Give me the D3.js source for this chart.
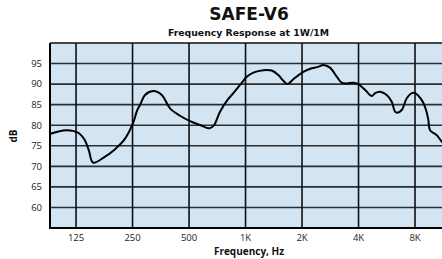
<!DOCTYPE html>
<html><head><meta charset="utf-8">
<script src="https://cdn.jsdelivr.net/npm/d3@7"></script>
<style>html,body{margin:0;padding:0;background:#fff;}svg{display:block;}</style>
</head><body>
<svg id="c" width="442" height="259"></svg>
<script>
const title = "SAFE-V6";
const subtitle = "Frequency Response at 1W/1M";
const xTitle = "Frequency, Hz";
const yTitle = "dB";
const freqTicks = [125, 250, 500, 1000, 2000, 4000, 8000];
const freqTickLabels = ["125", "250", "500", "1K", "2K", "4K", "8K"];
const dbTicks = [60, 65, 70, 75, 80, 85, 90, 95];
const freqs = [88, 110.6, 128, 139, 146, 154, 177.8, 201, 227, 251.5, 265, 274, 291.5, 322.7, 357.7, 396, 447.8, 506, 572, 641, 679.5, 731, 800, 861, 935, 1015, 1100, 1244, 1379, 1495, 1590, 1670, 1798, 2032, 2253, 2443, 2597, 2820, 3061, 3255, 3460, 3754, 3990, 4331, 4704, 4900, 5209, 5654, 6012, 6260, 6438, 6797, 7226, 7685, 8000, 8690, 9160, 9420, 9615, 10440, 11100, 11700];
const levels = [77.7, 78.8, 78.2, 76.4, 74.0, 70.9, 72.3, 74.1, 76.6, 80.5, 83.7, 84.9, 87.35, 88.3, 87.35, 84.1, 82.3, 81.0, 80.05, 79.25, 80.05, 83.3, 86.1, 87.8, 89.8, 91.8, 92.8, 93.4, 93.3, 92.2, 90.8, 90.0, 91.2, 93.0, 93.85, 94.2, 94.65, 94.0, 91.8, 90.35, 90.15, 90.35, 90.0, 88.6, 87.1, 87.8, 88.15, 87.35, 85.7, 83.3, 83.05, 83.7, 86.55, 87.8, 87.8, 86.1, 83.7, 81.3, 78.8, 77.6, 76.0, 75.0];

const font = "'Open Sans', 'DejaVu Sans', sans-serif";
const titleFont = "'DejaVu Sans', sans-serif";
const svg = d3.select("#c");
const L = 50, R = 446, T = 43, B = 228;
const x = d3.scaleLog().domain([90.8, 11700]).range([L, R]);
const y = d3.scaleLinear().domain([55, 100]).range([B, T]);

svg.append("defs").append("clipPath").attr("id", "clip")
  .append("rect").attr("x", L).attr("y", T).attr("width", R - L).attr("height", B - T);

svg.append("rect").attr("x", L).attr("y", T).attr("width", R - L).attr("height", B - T).attr("fill", "#d3e4f3");

svg.append("g").selectAll("line").data(dbTicks).join("line")
  .attr("x1", L).attr("x2", R).attr("y1", d => y(d)).attr("y2", d => y(d))
  .attr("stroke", "#2e2e2e").attr("stroke-width", 1.6);
svg.append("g").selectAll("line").data(freqTicks).join("line")
  .attr("x1", d => x(d)).attr("x2", d => x(d)).attr("y1", T).attr("y2", B)
  .attr("stroke", "#111").attr("stroke-width", 1.6);

svg.append("line").attr("x1", L).attr("x2", R).attr("y1", T).attr("y2", T).attr("stroke", "#111").attr("stroke-width", 1.6);
svg.append("line").attr("x1", L).attr("x2", L).attr("y1", T).attr("y2", B + 1).attr("stroke", "#000").attr("stroke-width", 2);
svg.append("line").attr("x1", L).attr("x2", R).attr("y1", B).attr("y2", B).attr("stroke", "#000").attr("stroke-width", 2);

const data = freqs.map((f, i) => [f, levels[i]]);
svg.append("path").datum(data)
  .attr("clip-path", "url(#clip)")
  .attr("fill", "none").attr("stroke", "#000").attr("stroke-width", 2).attr("stroke-linejoin", "round")
  .attr("d", d3.line().x(d => x(d[0])).y(d => y(d[1])).curve(d3.curveCatmullRom.alpha(0.5)));

svg.append("g").selectAll("text").data(dbTicks).join("text")
  .attr("x", 42).attr("y", d => y(d)).attr("dy", "0.35em").attr("text-anchor", "end")
  .attr("font-family", font).attr("font-size", 9.5).attr("fill", "#222").text(d => d);
svg.append("g").selectAll("text").data(freqTicks).join("text")
  .attr("x", d => x(d)).attr("y", 241).attr("text-anchor", "middle")
  .attr("font-family", font).attr("font-size", 9.5).attr("fill", "#222").text((d, i) => freqTickLabels[i]);

svg.append("text").attr("x", 249).attr("y", 254.5).attr("text-anchor", "middle")
  .attr("font-family", font).attr("font-weight", "bold").attr("font-size", 10).attr("fill", "#111").text(xTitle);
svg.append("text").attr("transform", "translate(17,136) rotate(-90)").attr("text-anchor", "middle")
  .attr("font-family", font).attr("font-weight", "bold").attr("font-size", 10).attr("fill", "#111").text(yTitle);

svg.append("text").attr("x", 249).attr("y", 19.5).attr("text-anchor", "middle")
  .attr("font-family", titleFont).attr("font-weight", "bold").attr("font-size", 17).attr("fill", "#111").text(title);
svg.append("text").attr("x", 248.5).attr("y", 35.5).attr("text-anchor", "middle")
  .attr("font-family", titleFont).attr("font-weight", "bold").attr("font-size", 9.3).attr("fill", "#111").text(subtitle);
</script>
</body></html>
